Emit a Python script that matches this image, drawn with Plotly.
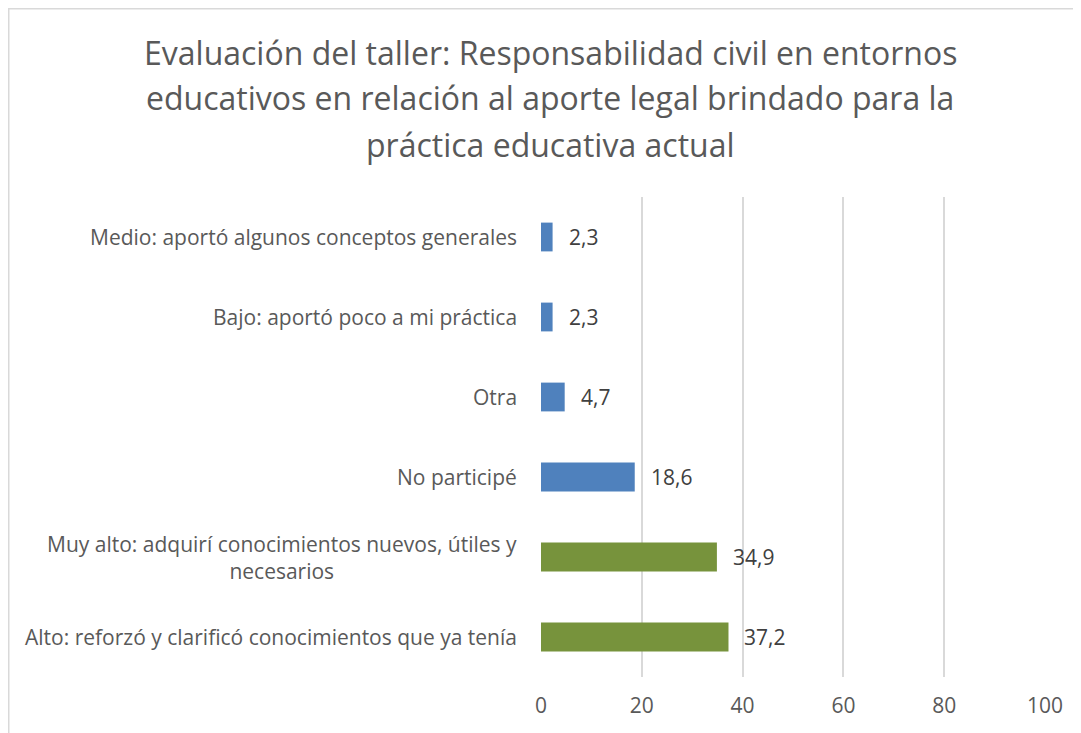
import plotly.graph_objects as go

# Data (bottom to top)
categories = [
    "Alto: reforzó y clarificó conocimientos que ya tenía",
    "Muy alto: adquirí conocimientos nuevos, útiles y<br>necesarios",
    "No participé",
    "Otra",
    "Bajo: aportó poco a mi práctica",
    "Medio: aportó algunos conceptos generales",
]
values = [37.2, 34.9, 18.6, 4.7, 2.3, 2.3]
x_ticks = [0, 20, 40, 60, 80, 100]
title_lines = [
    "Evaluación del taller: Responsabilidad civil en entornos",
    "educativos en relación al aporte legal brindado para la",
    "práctica educativa actual",
]

GREEN = "#77933C"
BLUE = "#4F81BD"
colors = [GREEN, GREEN, BLUE, BLUE, BLUE, BLUE]
FONT = "Open Sans"

OFF = 8  # page body margin
W, H = 1081 - OFF, 733 - OFF
ML, MT = 541 - OFF, 197 - OFF
MR = W - (1045 - OFF)
MB = H - (677 - OFF)
PW, PH = W - ML - MR, H - MT - MB

def py(p):  # page pixel y -> paper y
    return (H - MB - (p - OFF)) / PH

def px(p):  # page pixel x -> paper x
    return ((p - OFF) - ML) / PW

fig = go.Figure(
    go.Bar(
        x=values,
        y=categories,
        orientation="h",
        marker=dict(color=colors, line=dict(width=0)),
        hoverinfo="skip",
    )
)

annotations = []
for c, v in zip(categories, values):
    annotations.append(dict(
        x=0, xref="paper", y=c, yref="y", text=c, showarrow=False,
        xanchor="right", yanchor="middle", align="center", xshift=-22,
        font=dict(family=FONT, size=21, color="#595959"),
    ))
    annotations.append(dict(
        x=v, xref="x", y=c, yref="y", text=f"{v:.1f}".replace(".", ","),
        showarrow=False, xanchor="left", yanchor="middle", xshift=14,
        font=dict(family=FONT, size=21, color="#404040"),
    ))

title_y = [52, 98, 144]
for t, yy in zip(title_lines, title_y):
    annotations.append(dict(
        x=px(550), xref="paper", y=py(yy), yref="paper", text=t,
        showarrow=False, xanchor="center", yanchor="middle",
        font=dict(family=FONT, size=32, color="#595959"),
    ))

fig.update_layout(
    width=W, height=H,
    margin=dict(l=ML, r=MR, t=MT, b=MB, pad=0),
    paper_bgcolor="white", plot_bgcolor="white",
    showlegend=False,
    bargap=0.64,
    annotations=annotations,
    shapes=[dict(
        type="rect", xref="paper", yref="paper",
        x0=px(8.75), x1=px(1095), y0=py(760), y1=py(8.75),
        line=dict(color="#D9D9D9", width=1.5), fillcolor="rgba(0,0,0,0)",
        layer="below",
    )],
    xaxis=dict(
        range=[0, 100], tickvals=x_ticks, showgrid=True,
        gridcolor="#D9D9D9", gridwidth=1.5, zeroline=False,
        showline=False, ticks="", ticklabelstandoff=14,
        tickfont=dict(family=FONT, size=21, color="#595959"),
        fixedrange=True,
    ),
    yaxis=dict(
        type="category", showticklabels=False, showgrid=False,
        zeroline=False, showline=False, ticks="", fixedrange=True,
    ),
)

fig.write_html("out.html")
